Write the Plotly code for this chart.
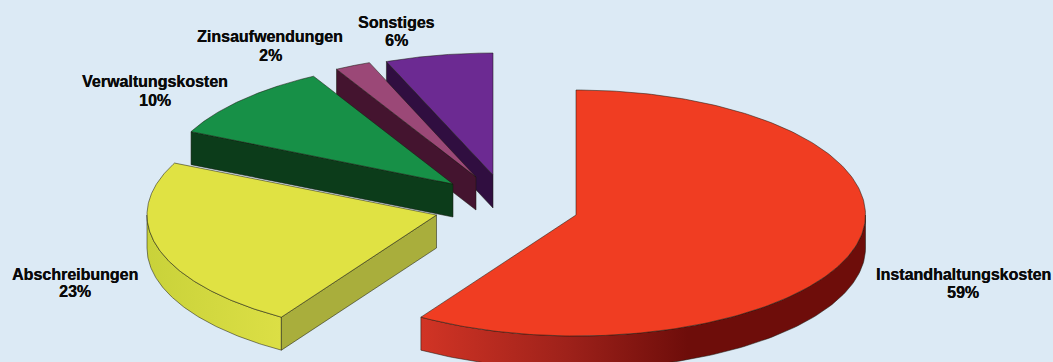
import numpy as np
import plotly.graph_objects as go

# Cost shares in percent, clockwise from twelve o'clock
categories = ["Instandhaltungskosten", "Abschreibungen", "Verwaltungskosten", "Zinsaufwendungen", "Sonstiges"]
shares = [59, 23, 10, 2, 6]

# Tilted pie geometry, in axis units
CENTER = (576, 215)
RX = 289.5
RY_FRONT = 121
RY_BACK = [125, 122, 123, 123, 122]
DEPTH = 33
EXPLODE_X = [0, -139.5, -123, -100, -83]
EXPLODE_Y = [0, 0, -31, -38, -40]

# Per-slice styling
TOP = ["#F03D22", "#E0E243", "#179047", "#9B4877", "#6C2A92"]
RADIAL_WALL = ["#8E1A14", "#A9AE3C", "#0C3C1A", "#44142F", "#300E40"]
OUTER_WALL = [
    [[0, "#D13425"], [0.33, "#9E211A"], [0.6, "#6E0D0A"], [1, "#6E0D0A"]],
    [[0, "#C9D23A"], [1, "#DCDF45"]],
    None, None, None,
]
EDGE = "rgba(25,25,15,0.75)"
BACKGROUND = "#DCEAF5"

LABEL_X = [963, 75, 155, 270, 396]
NAME_Y = [274, 274, 81, 36, 22]
SHARE_Y = [292, 291, 100, 55, 40]


def rim(theta, cx, cy, ry_back):
    """Point on the top ellipse of the pie at clockwise angle theta (degrees)."""
    t = np.radians(theta)
    c = np.cos(t)
    return cx + RX * np.sin(t), cy - np.where(c > 0, ry_back, RY_FRONT) * c


def closed(xs, ys):
    return list(xs) + [xs[0]], list(ys) + [ys[0]]


fig = go.Figure()


def add_face(xs, ys, color=None, gradient=None):
    x, y = closed(xs, ys)
    face = dict(x=x, y=y, mode="lines", fill="toself", hoverinfo="skip",
                line=dict(color=EDGE, width=0.7), showlegend=False)
    if gradient:
        face["fillgradient"] = dict(type="horizontal", colorscale=gradient)
    else:
        face["fillcolor"] = color
    fig.add_trace(go.Scatter(**face))


edges = np.cumsum([0] + shares) * 3.6

# Back slices first so the nearer ones overlap them
for i in [4, 3, 1, 2, 0]:
    a0, a1 = edges[i], edges[i + 1]
    cx, cy = CENTER[0] + EXPLODE_X[i], CENTER[1] + EXPLODE_Y[i]
    ry = RY_BACK[i]

    # Outer wall: only the part of the rim facing the viewer
    lo, hi = max(a0, 90), min(a1, 270)
    if hi > lo:
        arc = np.linspace(lo, hi, 120)
        ax, ay = rim(arc, cx, cy, ry)
        add_face(np.r_[ax, ax[::-1]], np.r_[ay, ay[::-1] + DEPTH],
                 gradient=OUTER_WALL[i])

    # Cut walls that turn toward the viewer
    for angle, visible in ((a0, np.sin(np.radians(a0)) < -1e-9),
                           (a1, np.sin(np.radians(a1)) > 1e-9)):
        if visible:
            ex, ey = rim(angle, cx, cy, ry)
            add_face([cx, ex, ex, cx], [cy, ey, ey + DEPTH, cy + DEPTH],
                     color=RADIAL_WALL[i])

    # Top face
    arc = np.linspace(a0, a1, 240)
    ax, ay = rim(arc, cx, cy, ry)
    add_face(np.r_[cx, ax], np.r_[cy, ay], color=TOP[i])

label_font = dict(family="Liberation Sans", size=16, color="#0A0A0A",
                  weight="bold", shadow="0.3px 0 0 #0A0A0A")

annotations = []
for name, share, x, y_name, y_share in zip(categories, shares, LABEL_X, NAME_Y, SHARE_Y):
    annotations.append(dict(x=x, y=y_name, xref="x", yref="y", showarrow=False,
                            text=name, font=label_font))
    annotations.append(dict(x=x, y=y_share, xref="x", yref="y", showarrow=False,
                            text=f"{share}%", font=label_font))

fig.update_layout(
    width=1053, height=362, margin=dict(l=0, r=0, t=0, b=0),
    paper_bgcolor=BACKGROUND, plot_bgcolor=BACKGROUND,
    xaxis=dict(range=[0, 1053], visible=False, fixedrange=True),
    yaxis=dict(range=[362, 0], visible=False, fixedrange=True),
    annotations=annotations,
)

fig.write_html("out.html", config={"displayModeBar": False})
